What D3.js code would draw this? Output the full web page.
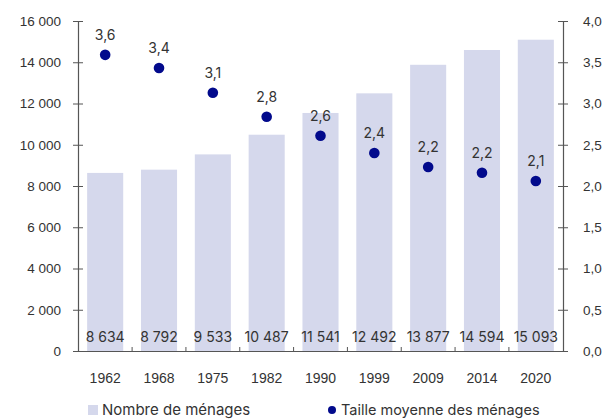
<!DOCTYPE html>
<html>
<head>
<meta charset="utf-8">
<script src="https://cdn.jsdelivr.net/npm/d3@7"></script>
<style>
  body { margin: 0; background: #fff; }
  svg { display: block; font-family: "Inter", "Noto Sans", sans-serif; }
  .tick text { fill: #333; font-size: 13.5px; }
</style>
</head>
<body>
<svg id="chart"></svg>
<script>
// données
const years = ["1962", "1968", "1975", "1982", "1990", "1999", "2009", "2014", "2020"];
const households = [8634, 8792, 9533, 10487, 11541, 12492, 13877, 14594, 15093];
const avgSize = [3.59, 3.43, 3.13, 2.84, 2.61, 2.40, 2.23, 2.16, 2.06];
const leftTicks = [0, 2000, 4000, 6000, 8000, 10000, 12000, 14000, 16000];
const rightTicks = [0, 0.5, 1, 1.5, 2, 2.5, 3, 3.5, 4];
const legendLabels = ["Nombre de ménages", "Taille moyenne des ménages"];

const width = 605, height = 419;
const svg = d3.select("#chart").attr("width", width).attr("height", height);

const plot = { left: 78, right: 563, top: 21, bottom: 351 };
const barColor = "#d5d8ec", dotColor = "#020a8c", axisColor = "#555";

const fmtThousands = d => d3.format(",")(d).replace(/,/g, "\u00a0");
const fmtDec = d => d.toFixed(1).replace(".", ",");

const x = d3.scaleBand().domain(years).range([plot.left, plot.right]).paddingInner(0.33).paddingOuter(0.17);
const yL = d3.scaleLinear().domain([0, 16000]).range([plot.bottom, plot.top]);
const yR = d3.scaleLinear().domain([0, 4]).range([plot.bottom, plot.top]);

// barres
svg.append("g").selectAll("rect")
  .data(households)
  .join("rect")
  .attr("x", (d, i) => x(years[i]))
  .attr("y", d => yL(d))
  .attr("width", x.bandwidth())
  .attr("height", d => yL(0) - yL(d))
  .attr("fill", barColor);

// valeurs dans les barres
svg.append("g").selectAll("text")
  .data(households)
  .join("text")
  .attr("x", (d, i) => x(years[i]) + x.bandwidth() / 2)
  .attr("y", plot.bottom - 9)
  .attr("text-anchor", "middle")
  .attr("fill", "#333")
  .style("font-size", "14px")
  .text(d => fmtThousands(d));

// axe gauche
const gL = svg.append("g").attr("transform", `translate(${plot.left},0)`)
  .call(d3.axisLeft(yL).tickValues(leftTicks).tickSize(0).tickPadding(17).tickFormat(fmtThousands));
gL.select(".domain").attr("stroke", axisColor).attr("stroke-width", 1.2);
gL.selectAll(".tick line").attr("x1", -5).attr("x2", 5).attr("stroke", axisColor);

// axe droit
const gR = svg.append("g").attr("transform", `translate(${plot.right},0)`)
  .call(d3.axisRight(yR).tickValues(rightTicks).tickSize(0).tickPadding(20).tickFormat(fmtDec));
gR.select(".domain").attr("stroke", axisColor).attr("stroke-width", 1.2);
gR.selectAll(".tick line").attr("x1", -5).attr("x2", 5).attr("stroke", axisColor);

// axe x
const gX = svg.append("g").attr("transform", `translate(0,${plot.bottom})`)
  .call(d3.axisBottom(x).tickSize(0).tickPadding(22));
gX.select(".domain").attr("stroke", axisColor).attr("stroke-width", 1.2);
gX.selectAll(".tick line").remove();
gX.selectAll(".tick text").style("font-size", "14px");
// petits traits entre les barres
svg.append("g").selectAll("line")
  .data(years.slice(1))
  .join("line")
  .attr("x1", d => x(d) - x.step() * x.paddingInner() / 2)
  .attr("x2", d => x(d) - x.step() * x.paddingInner() / 2)
  .attr("y1", plot.bottom)
  .attr("y2", plot.bottom - 4)
  .attr("stroke", axisColor);

// points
svg.append("g").selectAll("circle")
  .data(avgSize)
  .join("circle")
  .attr("cx", (d, i) => x(years[i]) + x.bandwidth() / 2)
  .attr("cy", d => yR(d))
  .attr("r", 5.3)
  .attr("fill", dotColor);

svg.append("g").selectAll("text")
  .data(avgSize)
  .join("text")
  .attr("x", (d, i) => x(years[i]) + x.bandwidth() / 2)
  .attr("y", d => yR(d) - 15)
  .attr("text-anchor", "middle")
  .attr("fill", "#333")
  .style("font-size", "14px")
  .text(d => fmtDec(d));

// légende
const leg = svg.append("g");
leg.append("rect").attr("x", 88).attr("y", 405).attr("width", 10).attr("height", 10).attr("fill", barColor);
leg.append("text").attr("x", 102).attr("y", 415).attr("fill", "#333").style("font-size", "15px").text(legendLabels[0]);
leg.append("circle").attr("cx", 332).attr("cy", 410).attr("r", 4).attr("fill", dotColor);
leg.append("text").attr("x", 341).attr("y", 415).attr("fill", "#333").style("font-size", "14.5px").text(legendLabels[1]);
</script>
</body>
</html>
